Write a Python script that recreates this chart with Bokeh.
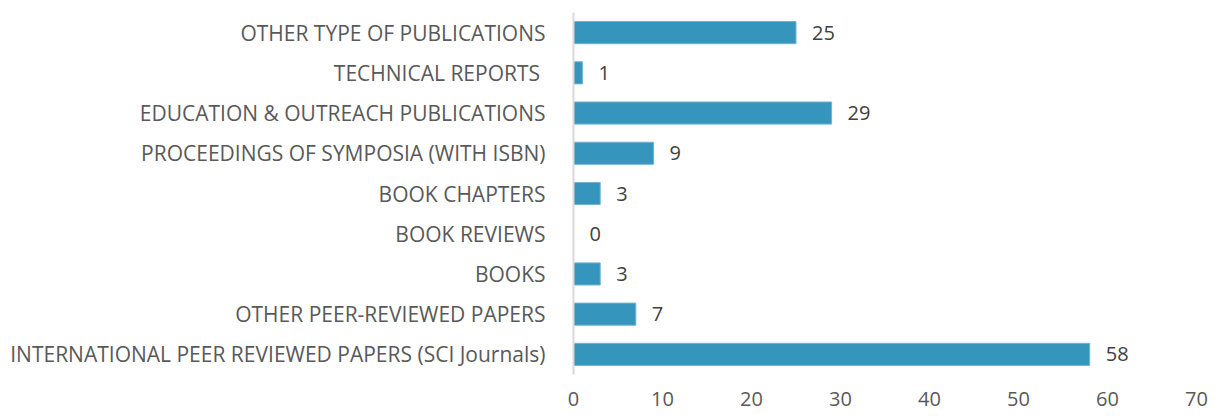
from bokeh.plotting import figure
from bokeh.models import ColumnDataSource, FactorRange, Range1d, FixedTicker
from bokeh.embed import file_html
from bokeh.resources import INLINE
from bokeh.core.properties import value

categories = [
    "OTHER TYPE OF PUBLICATIONS",
    "TECHNICAL REPORTS ",
    "EDUCATION & OUTREACH PUBLICATIONS",
    "PROCEEDINGS OF SYMPOSIA (WITH ISBN)",
    "BOOK CHAPTERS",
    "BOOK REVIEWS",
    "BOOKS",
    "OTHER PEER-REVIEWED PAPERS",
    "INTERNATIONAL PEER REVIEWED PAPERS (SCI Journals)",
]
counts = [25, 1, 29, 9, 3, 0, 3, 7, 58]
x_ticks = [0, 10, 20, 30, 40, 50, 60, 70]

FONT = "Open Sans"
BAR = "#3595BC"

cats_bottom_up = categories[::-1]
src = ColumnDataSource(dict(cat=categories, val=counts, lab=[str(v) for v in counts]))

p = figure(
    width=1220, height=416,
    y_range=FactorRange(*cats_bottom_up, range_padding=0),
    x_range=Range1d(0, 70),
    output_backend="svg", toolbar_location=None,
    min_border_left=573, min_border_right=24, min_border_top=12, min_border_bottom=42,
)
p.hbar(y="cat", right="val", left=0, height=0.55, source=src,
       fill_color=BAR, line_color="#6fb4d2", line_width=1)
p.text(x="val", y="cat", text="lab", source=src, x_offset=16,
       text_align="left", text_baseline="middle",
       text_font=value(FONT), text_font_size="20px", text_color="#404040")

p.outline_line_color = None
p.background_fill_color = "white"
p.border_fill_color = "white"
p.xgrid.grid_line_color = None
p.ygrid.grid_line_color = None

p.xaxis.ticker = FixedTicker(ticks=x_ticks)
p.xaxis.axis_line_color = None
p.xaxis.major_tick_line_color = None
p.xaxis.minor_tick_line_color = None
p.xaxis.major_label_standoff = 11
p.xaxis.major_label_text_font = FONT
p.xaxis.major_label_text_font_size = "20px"
p.xaxis.major_label_text_color = "#595959"

p.yaxis.axis_line_color = "#d9d9d9"
p.yaxis.axis_line_width = 2
p.yaxis.major_tick_line_color = None
p.yaxis.minor_tick_line_color = None
p.yaxis.major_label_standoff = 22
p.yaxis.major_label_text_font = FONT
p.yaxis.major_label_text_font_size = "21px"
p.yaxis.major_label_text_color = "#595959"

open("out.html", "w").write(file_html(p, INLINE))
